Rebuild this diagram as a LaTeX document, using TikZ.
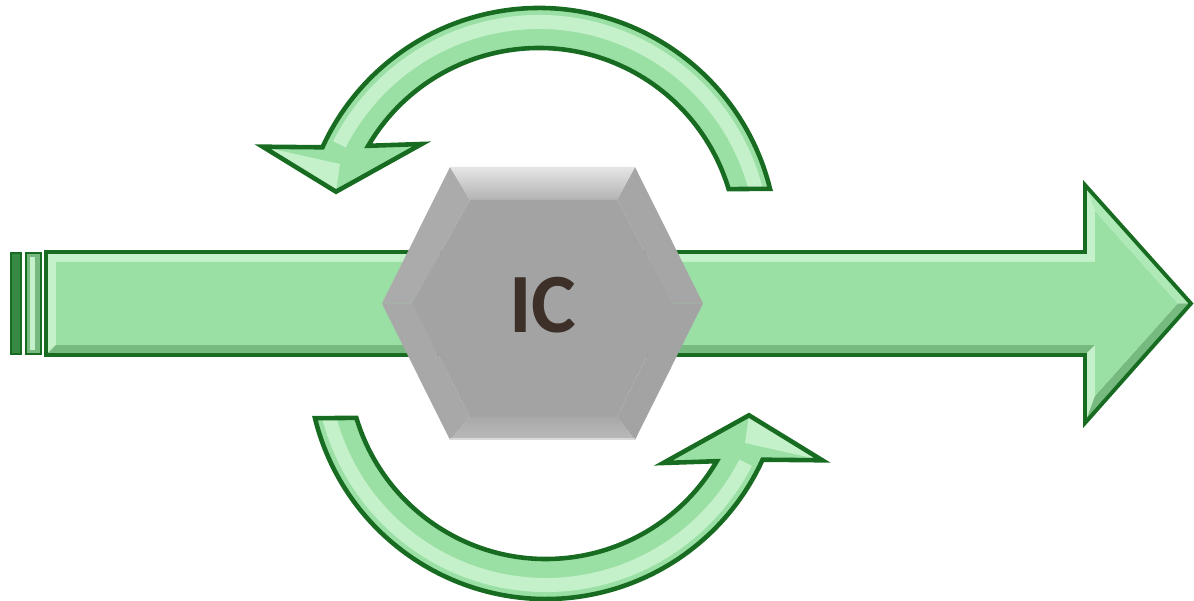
\documentclass[tikz,border=0pt]{standalone}
\usepackage{fontspec}
\newfontfamily\labelfont{Carlito}
\definecolor{ArrowFace}{RGB}{154,223,164}
\definecolor{ArrowLight}{RGB}{196,241,201}
\definecolor{ArrowMid}{RGB}{176,233,184}
\definecolor{ArrowDark}{RGB}{118,186,128}
\definecolor{ArrowEdge}{RGB}{24,108,34}
\definecolor{LabelInk}{RGB}{60,48,40}

% outline of the half-turn arrow above the hexagon (the lower one is this turned by 180)
\newcommand\looparrow{(770.03,411.17) arc[start angle=13.9, end angle=155.5, radius=238]
    -- (262.7,453.3) -- (336,408.3) -- (421.7,456) -- (368.22,454.19)
    arc[start angle=149.6, end angle=16.7, radius=198] -- cycle}

\begin{document}
\begin{tikzpicture}[x=0.01cm, y=0.01cm,
    edge/.style={draw=ArrowEdge, line width=1.1pt, line join=miter},
    lightface/.style={fill=ArrowLight},
    darkface/.style={fill=ArrowDark},
    hexfacet/.style={fill=black!#1}
]
    \useasboundingbox (0,0) rectangle (1194,600);

    % striped tail of the main arrow
    \draw[edge, line width=0.8pt, fill=ArrowEdge!75!ArrowFace] (11,246) rectangle (21,347);
    \draw[edge, line width=0.8pt, fill=ArrowDark] (26,246) rectangle (41,347);
    \fill[ArrowLight] (30,250) rectangle (35,343);

    % main arrow: bevel faces, flat top, outline
    \fill[lightface] (46,348) -- (1085,348) -- (1095,338) -- (56,338) -- cycle;
    \fill[lightface] (46,245) -- (46,348) -- (56,338) -- (56,255) -- cycle;
    \fill[darkface] (46,245) -- (1085,245) -- (1095,255) -- (56,255) -- cycle;
    \fill[lightface] (1085,348) -- (1085,415) -- (1095,388.8) -- (1095,338) -- cycle;
    \fill[lightface] (1085,245) -- (1085,177) -- (1095,204.2) -- (1095,255) -- cycle;
    \fill[ArrowMid] (1085,415) -- (1191,296.5) -- (1177.6,296.5) -- (1095,388.8) -- cycle;
    \fill[darkface] (1085,177) -- (1191,296.5) -- (1177.6,296.5) -- (1095,204.2) -- cycle;
    \fill[ArrowFace] (56,255) -- (1095,255) -- (1095,204.2) -- (1177.6,296.5)
        -- (1095,388.8) -- (1095,338) -- (56,338) -- cycle;
    \draw[edge] (46,245) -- (1085,245) -- (1085,177) -- (1191,296.5)
        -- (1085,415) -- (1085,348) -- (46,348) -- cycle;

    % the two half-turn arrows
    \foreach \turn in {0,180} {
        \begin{scope}[rotate around={\turn:(542.5,296.5)}]
            \fill[ArrowFace] \looparrow;
            \begin{scope}
                \clip \looparrow;
                \draw[ArrowLight, line width=4pt] (539,354) ++(14:224)
                    arc[start angle=14, end angle=153, radius=224];
                \fill[lightface] (262.7,453.3) -- (336,408.3) -- (340,436) -- cycle;
            \end{scope}
            \draw[edge, line width=1.3pt] \looparrow;
        \end{scope}
    }

    % hexagon with bevelled rim
    \fill[hexfacet=33] (382,296.5) -- (450,433) -- (470,400) -- (412,296.5) -- cycle;
    \fill[hexfacet=34] (382,296.5) -- (450,160) -- (470,183) -- (412,296.5) -- cycle;
    \fill[hexfacet=35] (703,296.5) -- (635,433) -- (617,400) -- (673,296.5) -- cycle;
    \fill[hexfacet=36] (703,296.5) -- (635,160) -- (617,183) -- (673,296.5) -- cycle;
    \shade[top color=black!10, bottom color=black!30]
        (450,433) -- (635,433) -- (617,400) -- (470,400) -- cycle;
    \shade[top color=black!34, bottom color=black!27]
        (450,160) -- (635,160) -- (617,183) -- (470,183) -- cycle;
    \fill[hexfacet=36] (412,296.5) -- (470,400) -- (617,400) -- (673,296.5)
        -- (617,183) -- (470,183) -- cycle;
    \draw[black!15, line width=0.6pt] (450,161) -- (635,161);

    \node[font=\labelfont\bfseries\fontsize{24}{28}\selectfont, text=LabelInk]
        (ic) at (543,295) {IC};
\end{tikzpicture}
\end{document}
